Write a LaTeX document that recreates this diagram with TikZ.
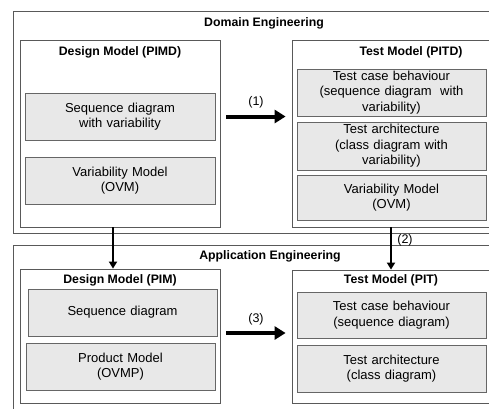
\documentclass[tikz,border=0pt]{standalone}
\usepackage{fontspec}
\setmainfont{Liberation Sans}
\usetikzlibrary{arrows.meta}
\begin{document}
\begin{tikzpicture}[x=1pt, y=-1pt, font=\fontsize{12.5}{14.5}\selectfont,
 area/.style={draw=black!65, line width=0.8pt, inner sep=0pt},
 part/.style={draw=black!60, fill=black!9, line width=0.8pt, align=center, inner sep=0pt, text width=187pt, minimum width=189pt, font=\fontsize{13}{15.5}\selectfont},
 heading/.style={font=\fontsize{12.3}{14}\selectfont\bfseries},
 bigarrow/.style={line width=4pt, -{Triangle[length=11pt,width=13pt]}, shorten <=6pt, shorten >=6pt},
 downarrow/.style={line width=2pt, -{Triangle[length=7pt,width=8pt]}}]
\useasboundingbox (0,0) rectangle (489,408);
\clip (0,0) rectangle (489,408);

\node[area, minimum width=483pt, minimum height=222pt] (domain) at (254.5,122) {};
\node[area, minimum width=483pt, minimum height=175pt] (application) at (254.5,332.5) {};
\node[heading] (domaintitle) at (264,23) {Domain Engineering};
\node[heading] (applicationtitle) at (270,256) {Application Engineering};

\node[area, minimum width=200pt, minimum height=187pt] (pimd) at (120,133.5) {};
\node[area, minimum width=201pt, minimum height=187pt] (pitd) at (392.5,133.5) {};
\node[area, minimum width=200pt, minimum height=134pt] (pim) at (120,336) {};
\node[area, minimum width=201pt, minimum height=133pt] (pit) at (392.5,336.5) {};

\node[heading] (pimdtitle) at (120,52) {Design Model (PIMD)};
\node[heading] (pitdtitle) at (411,52) {Test Model (PITD)};
\node[heading] (pimtitle) at (120,280) {Design Model (PIM)};
\node[heading] (pittitle) at (391,280) {Test Model (PIT)};

\node[part, minimum width=190pt, minimum height=47pt] (pimdseq) at (120,116.5) {Sequence diagram\\with variability};
\node[part, minimum width=190pt, minimum height=47pt] (pimdovm) at (120,180.5) {Variability Model\\(OVM)};
\node[part, minimum height=47pt] (pitdbehaviour) at (391.5,92.5) {Test case behaviour\\(sequence diagram\ \ with\\variability)};
\node[part, minimum height=48pt] (pitdarch) at (391.5,146) {Test architecture\\(class diagram with\\variability)};
\node[part, minimum height=45pt] (pitdovm) at (391.5,197.5) {Variability Model\\(OVM)};
\node[part, minimum height=47pt] (pimseq) at (122.5,312.5) {Sequence diagram};
\node[part, minimum height=47pt] (pimovmp) at (120.5,366.5) {Product Model\\(OVMP)};
\node[part, minimum height=46pt] (pitbehaviour) at (391.5,315) {Test case behaviour\\(sequence diagram)};
\node[part, minimum height=47pt] (pitarch) at (391.5,368.5) {Test architecture\\(class diagram)};

\draw[bigarrow] (pimd.east |- pimdseq) -- node[above=3pt]{(1)} (pitd.west |- pimdseq);
\draw[bigarrow] ([yshift=3pt]pim.east) -- node[above=3pt]{(3)} ([yshift=3pt]pit.west |- pim.east);
\draw[downarrow] ([xshift=-7pt]pimd.south) -- ([xshift=-7pt]pim.north);
\draw[downarrow] ([xshift=-1.5pt]pitd.south) -- node[right=2pt, pos=0.3]{(2)} ([xshift=-1.5pt]pit.north);
\end{tikzpicture}
\end{document}
